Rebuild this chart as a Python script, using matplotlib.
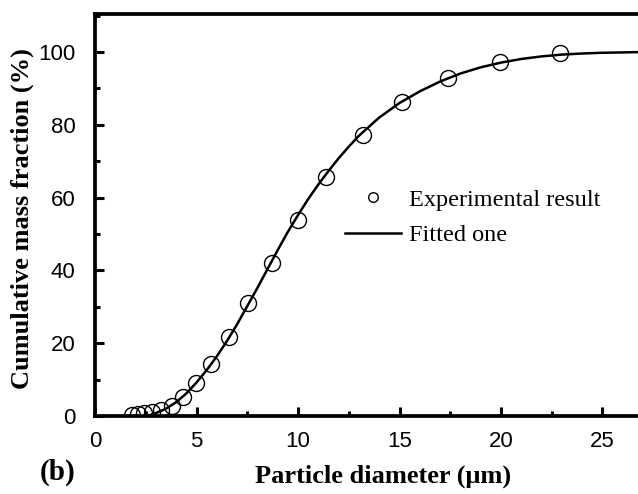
import matplotlib.pyplot as plt
from matplotlib.ticker import MultipleLocator

# measured points
diam_exp = [1.8, 2.1, 2.4, 2.8, 3.25, 3.8, 4.35, 4.95, 5.7, 6.6, 7.55, 8.7,
            10.0, 11.4, 13.2, 15.1, 17.4, 19.95, 22.9]
frac_exp = [0.2, 0.4, 0.7, 1.0, 1.5, 2.8, 5.2, 9.0, 14.2, 21.6, 31.0, 42.0,
            53.8, 65.7, 77.2, 86.2, 92.8, 97.2, 99.8]

# fitted curve
diam_fit = [2.6, 3.0, 3.5, 4.0, 4.5, 5.0, 5.5, 6.0, 6.5, 7.0, 7.5, 8.0, 8.5,
            9.0, 9.5, 10.0, 10.5, 11.0, 11.5, 12.0, 12.5, 13.0, 14.0, 15.0,
            16.0, 17.0, 18.0, 19.0, 20.0, 21.0, 22.0, 23.0, 24.0, 25.0, 27.0]
frac_fit = [0.0, 0.8, 2.0, 3.8, 6.2, 9.2, 12.6, 16.4, 20.6, 25.2, 30.2, 35.2,
            40.4, 45.6, 50.6, 55.2, 59.6, 63.6, 67.3, 70.8, 74.0, 77.0, 82.0,
            86.0, 89.2, 91.9, 94.1, 95.8, 97.1, 98.1, 98.8, 99.3, 99.6, 99.8, 100.0]

fig = plt.figure(figsize=(6.38, 4.94), dpi=100)
ax = fig.add_axes([0.149, 0.158, 0.851, 0.814])

ax.plot(diam_exp, frac_exp, 'o', mfc='none', mec='black', ms=11.5, mew=1.0,
        label='Experimental result')
ax.plot(diam_fit, frac_fit, '-', color='black', lw=1.8, label='Fitted one')

ax.set_xlim(0, 26.75)
ax.set_ylim(0, 110.5)
ax.xaxis.set_major_locator(MultipleLocator(5))
ax.xaxis.set_minor_locator(MultipleLocator(2.5))
ax.yaxis.set_minor_locator(MultipleLocator(10))
ax.set_yticks([0, 20, 40, 60, 80, 100])

for side in ['left', 'bottom', 'top']:
    ax.spines[side].set_linewidth(2.7)
ax.spines['right'].set_visible(False)
ax.tick_params(which='both', direction='in', top=False, right=False,
               width=2.2, labelsize=16)
ax.tick_params(axis='x', pad=11)
ax.tick_params(axis='y', pad=14)
ax.tick_params(which='major', length=6.5)
ax.tick_params(which='minor', length=3.5)
for lab in ax.get_xticklabels() + ax.get_yticklabels():
    lab.set_family('Liberation Sans')

ax.set_xlabel('Particle diameter (\u03bcm)', family='Liberation Serif',
              fontweight='bold', fontsize=19)
ax.set_ylabel('Cumulative mass fraction (%)', family='Liberation Serif',
              fontweight='bold', fontsize=19)
ax.xaxis.set_label_coords(0.53, -0.12)
ax.yaxis.set_label_coords(-0.112, 0.49)

fig.text(0.063, 0.03, '(b)', family='Liberation Serif', fontweight='bold',
         fontsize=21)

ax.legend(loc='upper left', bbox_to_anchor=(0.46, 0.565), frameon=False,
          prop={'family': 'Liberation Serif', 'size': 17.5}, markerscale=0.6,
          handlelength=2.3, handletextpad=0.33, labelspacing=0.55,
          borderpad=0, borderaxespad=0)

fig.savefig('out.png', dpi=100)
